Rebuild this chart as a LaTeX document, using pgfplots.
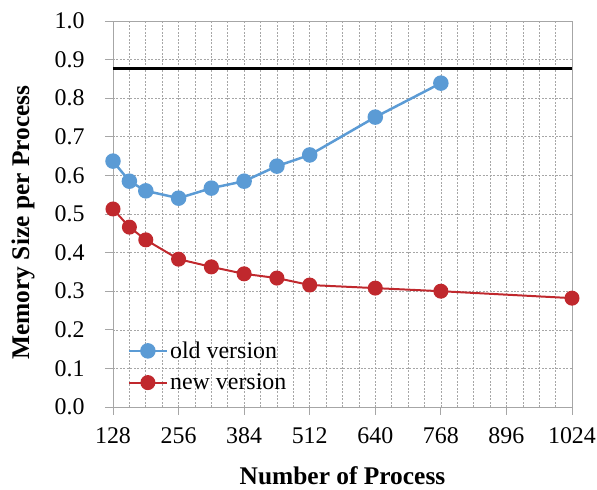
\documentclass[border=0pt]{standalone}
\usepackage{pgfplots}
\pgfplotsset{compat=1.18}
\usepackage{fontspec}
\setmainfont{Liberation Serif}
\definecolor{oldblue}{HTML}{5B9BD5}
\definecolor{newred}{HTML}{C0282D}
\definecolor{gridgray}{HTML}{A6A6A6}
\begin{document}
\begin{tikzpicture}
\useasboundingbox (-113bp,-83bp) rectangle (484bp,407bp);
\begin{axis}[
  scale only axis,
  width=459bp, height=386bp,
  xmin=128, xmax=1024, ymin=0, ymax=1,
  xtick={128,256,384,512,640,768,896,1024},
  minor x tick num=3,
  ytick={0,0.1,0.2,0.3,0.4,0.5,0.6,0.7,0.8,0.9,1.0},
  minor y tick num=0,
  /pgf/number format/assume math mode=true,
  /pgf/number format/1000 sep={},
  yticklabel style={/pgf/number format/fixed,/pgf/number format/fixed zerofill,/pgf/number format/precision=1, xshift=-17bp},
  xticklabel style={yshift=-9bp},
  scaled y ticks=false,
  tick align=outside,
  tick pos=left,
  major tick length=8bp,
  minor tick length=0pt,
  tick style={color=gridgray, line width=0.8pt},
  grid=both,
  major grid style={color=gridgray, dash pattern=on 2pt off 1.5pt, line width=0.6pt},
  minor grid style={color=gridgray, dash pattern=on 2pt off 1.5pt, line width=0.6pt},
  axis line style={color=gridgray, line width=0.8pt},
  ticklabel style={font=\rmfamily\fontsize{24}{28}\selectfont},
  label style={font=\rmfamily\fontsize{25.5}{30}\selectfont\bfseries},
  xlabel={Number of Process},
  ylabel={Memory Size per Process},
  xlabel style={at={(axis description cs:0.5,0)}, anchor=north, yshift=-56bp},
  ylabel style={at={(axis description cs:-0.196,0.478)}, anchor=center},
  legend style={at={(axis description cs:0.025,0.03)}, anchor=south west, draw=none, fill=none,
    font=\rmfamily\fontsize{24}{28}\selectfont, row sep=10bp, legend cell align=left},
  legend image code/.code={\draw[mark repeat=2,mark phase=2] plot coordinates {(0bp,0bp)(19bp,0bp)(38bp,0bp)};},
]
\addplot[black, line width=2.8pt, forget plot] coordinates {(128,0.876) (1024,0.876)};
\addplot[oldblue, line width=2.5pt, mark=*, mark size=6.5bp, mark options={solid}] coordinates {
(128,0.637) (160,0.585) (192,0.560) (256,0.541) (320,0.567) (384,0.585) (448,0.624) (512,0.653) (640,0.751) (768,0.839)};
\addlegendentry{old version}
\addplot[newred, line width=2pt, mark=*, mark size=6.5bp, mark options={solid}] coordinates {
(128,0.513) (160,0.466) (192,0.433) (256,0.383) (320,0.363) (384,0.345) (448,0.334) (512,0.316) (640,0.308) (768,0.300) (1024,0.282)};
\addlegendentry{new version}
\end{axis}
\end{tikzpicture}
\end{document}
